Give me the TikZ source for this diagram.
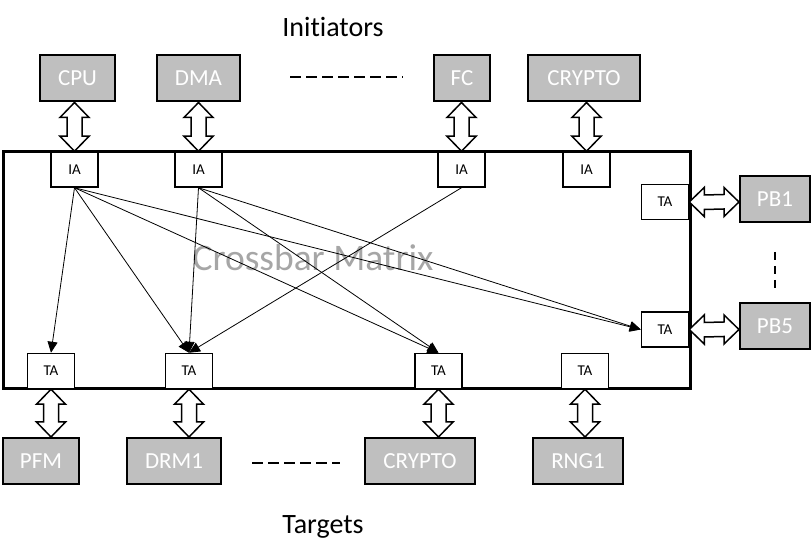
\documentclass[tikz,border=0pt]{standalone}
\usepackage{fontspec}
\setmainfont{Carlito}[Ligatures={NoCommon}]
\usetikzlibrary{arrows.meta,calc}

\definecolor{blockgray}{RGB}{191,191,191}
\definecolor{labelgray}{RGB}{166,166,166}

\tikzset{
  block/.style={draw,line width=2pt,fill=blockgray,text=white,font=\fontsize{23}{25}\selectfont,minimum height=46pt,inner sep=0pt},
  port/.style={draw,line width=1.5pt,fill=white,font=\fontsize{15}{17}\selectfont,minimum width=47pt,minimum height=35pt,inner sep=0pt},
  bus/.style={draw,line width=1.5pt,fill=white,line join=miter},
  link/.style={line width=0.8pt,-{Triangle[length=11pt,width=10pt]}},
  more/.style={line width=1.5pt,dash pattern=on 11pt off 5pt},
}

% double arrow between two points on one vertical or horizontal line
\newcommand{\vbus}[2]{\draw[bus] (#1) -- ++(-14.5,-15) -- ++(7,0) -- ($(#2)+(-7.5,15)$) -- ++(-7,0) -- (#2) -- ++(14.5,15) -- ++(-7,0) -- ($(#1)+(7.5,-15)$) -- ++(7,0) -- cycle;}
\newcommand{\hbus}[2]{\draw[bus] (#1) -- ++(15,14.5) -- ++(0,-7.5) -- ($(#2)+(-15,7.5)$) -- ++(0,7) -- (#2) -- ++(-15,-14.5) -- ++(0,7.5) -- ($(#1)+(15,-7.5)$) -- ++(0,-7) -- cycle;}

\begin{document}
\begin{tikzpicture}[x=1pt,y=1pt]
\useasboundingbox (0,0) rectangle (812,553);

% the matrix
\draw[line width=3pt] (3,164) rectangle (690,401);
\node[text=labelgray,font=\fontsize{37.5}{40}\selectfont] (xbar) at (313,295) {Crossbar Matrix};

% initiators
\node[font=\fontsize{28}{30}\selectfont] (init) at (333,526) {Initiators};
\node[block,minimum width=75pt] (cpu) at (77.5,474.5) {CPU};
\node[block,minimum width=83pt] (dma) at (198.5,474.5) {DMA};
\node[block,minimum width=56pt] (fc) at (462,474.5) {FC};
\node[block,minimum width=112pt] (cryptoi) at (584,474.5) {CRYPTO};
\draw[more] (290,476) -- (403,476);

\node[port] (ia1) at (74.5,383.5) {IA};
\node[port] (ia2) at (198.5,383.5) {IA};
\node[port] (ia3) at (461.5,383.5) {IA};
\node[port] (ia4) at (586.5,383.5) {IA};

% targets
\node[font=\fontsize{28}{30}\selectfont] (targ) at (323,26) {Targets};
\node[block,minimum width=76pt] (pfm) at (41,92) {PFM};
\node[block,minimum width=94pt] (drm) at (174,92) {DRM1};
\node[block,minimum width=110pt] (cryptot) at (420,92) {CRYPTO};
\node[block,minimum width=90pt] (rng) at (578,92) {RNG1};
\draw[more] (252,90) -- (340,90);

\node[port] (ta1) at (51,182) {TA};
\node[port] (ta2) at (189,182) {TA};
\node[port] (ta3) at (438.5,182) {TA};
\node[port] (ta4) at (585,182) {TA};

% peripheral bridges
\node[port] (tb1) at (665,351) {TA};
\node[port] (tb5) at (665,223.5) {TA};
\node[block,minimum width=70pt] (pb1) at (775,353.5) {PB1};
\node[block,minimum width=70pt] (pb5) at (775,227) {PB5};
\draw[line width=2pt,dash pattern=on 8pt off 6pt] (775,301) -- (775,263);

% buses
\vbus{cpu.south -| ia1.north}{ia1.north}
\vbus{dma.south -| ia2.north}{ia2.north}
\vbus{fc.south -| ia3.north}{ia3.north}
\vbus{cryptoi.south -| ia4.north}{ia4.north}
\vbus{ta1.south}{ta1.south |- pfm.north}
\vbus{ta2.south}{ta2.south |- drm.north}
\vbus{ta3.south}{ta3.south |- cryptot.north}
\vbus{ta4.south}{ta4.south |- rng.north}
\hbus{tb1.east}{tb1.east -| pb1.west}
\hbus{tb5.east}{tb5.east -| pb5.west}

% paths through the matrix
\draw[link] (ia1.south) -- (ta1.north);
\draw[link] (ia1.south) -- (ta2.north);
\draw[link] (ia1.south) -- (ta3.north);
\draw[link] (ia1.south) -- (tb5.west);
\draw[link] (ia2.south) -- (ta2.north);
\draw[link] (ia2.south) -- (ta3.north);
\draw[link] (ia2.south) -- (tb5.west);
\draw[link] (ia3.south) -- (ta2.north);
\end{tikzpicture}
\end{document}
